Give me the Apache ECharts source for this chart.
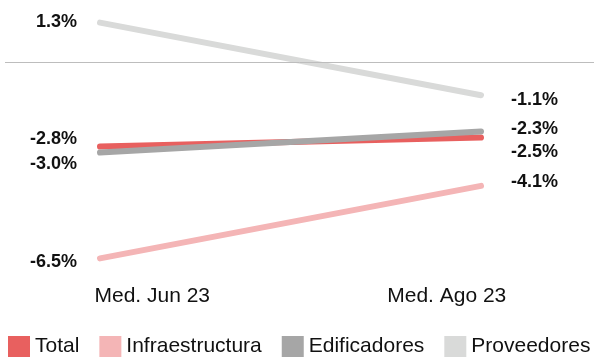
<!DOCTYPE html>
<html>
<head>
<meta charset="utf-8">
<script src="https://cdn.jsdelivr.net/npm/echarts@6/dist/echarts.min.js"></script>
<style>
  html, body { margin: 0; padding: 0; background: #fff; }
  #chart { width: 594px; height: 358px; }
</style>
</head>
<body>
<div id="chart"></div>
<script>
// Periods compared and the change (%) of each segment
const categories = ['Med. Jun 23', 'Med. Ago 23'];
const seriesNames = ['Total', 'Infraestructura', 'Edificadores', 'Proveedores'];
const totalValues = [-2.8, -2.5];
const infraValues = [-6.5, -4.1];
const edifValues = [-3.0, -2.3];
const provValues = [1.3, -1.1];

const colors = ['#E8605F', '#F4B5B6', '#A6A6A6', '#D9DAD9'];
// vertical nudges for the end labels so they don't collide: [start, end]
const labelShift = [[-8, 15], [4, -4], [11, -2], [-1, 5]];

const valueSets = [totalValues, infraValues, edifValues, provValues];

const fontFamily = 'Liberation Sans, Arial, sans-serif';
const labelFont = { fontFamily, fontSize: 18, fontWeight: 'bold', color: '#111' };

function buildSeries(i) {
  const vals = valueSets[i];
  return {
    name: seriesNames[i],
    type: 'line',
    xAxisIndex: 0,
    yAxisIndex: 0,
    symbol: 'circle',
    symbolSize: 0.1,
    lineStyle: { width: 6, color: colors[i], cap: 'round' },
    itemStyle: { color: colors[i] },
    emphasis: { disabled: true },
    data: vals.map((v, k) => ({
      value: v,
      label: {
        show: true,
        position: k === 0 ? 'left' : 'right',
        distance: k === 0 ? 23 : 30,
        offset: [0, labelShift[i][k]],
        formatter: (p) => p.value.toFixed(1) + '%',
        ...labelFont
      }
    }))
  };
}

const chart = echarts.init(document.getElementById('chart'));
chart.setOption({
  animation: false,
  color: colors,
  grid: [
    { left: 100, right: 113, top: 1.5, bottom: 84.5 },
    { left: 5, right: -3, top: 1.5, bottom: 84.5 }
  ],
  xAxis: [
    { type: 'category', gridIndex: 0, data: categories, boundaryGap: false, show: false },
    {
      type: 'category', gridIndex: 1, data: categories, boundaryGap: true,
      axisLine: { show: false }, axisTick: { show: false },
      axisLabel: { fontFamily, fontSize: 21, color: '#111', margin: 12 }
    }
  ],
  yAxis: [
    { type: 'value', gridIndex: 0, min: -7, max: 2, show: false },
    { type: 'value', gridIndex: 1, min: -7, max: 2, show: false }
  ],
  legend: {
    data: seriesNames,
    left: 8,
    top: 336,
    padding: 0,
    itemWidth: 22,
    itemHeight: 21,
    itemGap: 20,
    icon: 'rect',
    textStyle: { fontFamily, fontSize: 21, color: '#111' }
  },
  series: [
    {
      // zero reference line across the full width
      type: 'line',
      xAxisIndex: 1,
      yAxisIndex: 1,
      data: [],
      silent: true,
      markLine: {
        silent: true,
        symbol: 'none',
        label: { show: false },
        lineStyle: { color: '#BDBDBD', width: 1, type: 'solid' },
        data: [{ yAxis: 0 }]
      }
    },
    ...seriesNames.map((_, i) => buildSeries(i))
  ]
});
</script>
</body>
</html>
